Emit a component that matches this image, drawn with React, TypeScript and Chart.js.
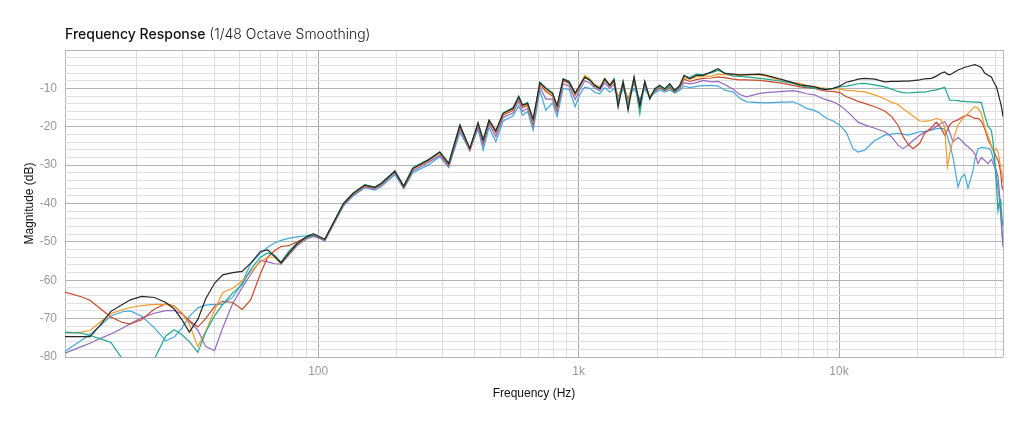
import { useEffect, useRef } from "react"
import { Chart, registerables } from "chart.js"

Chart.register(...registerables)

// frequency points (Hz) shared by every trace
const frequencies = [
  10.66, 12.3, 13.3, 14.5, 16, 17.7, 19, 21, 23.5, 26, 28, 30, 32, 34.5, 37, 40, 43, 47, 51, 55, 60, 64, 68, 72, 77, 83, 90, 96,
  106, 114, 125, 136, 151, 165, 175, 197, 213, 231, 264, 293, 317, 350, 382, 411, 430, 453, 481, 513, 560, 589, 609, 637, 669, 710, 748, 794, 827, 872, 919, 970,
  1011, 1056, 1104, 1154, 1206, 1260, 1317, 1368, 1418, 1482, 1549, 1633, 1718, 1795, 1876, 1961, 2049, 2142, 2239, 2340, 2445, 2541, 2672, 2836, 3006, 3237, 3432, 3640,
  3919, 4157, 4411, 4961, 5263, 6095, 6660, 7066, 7497, 8067, 8433, 8945, 9483, 10060,
  10676, 11316, 11826, 12549, 13709, 14978, 15893, 16850, 17603, 18400, 19231, 20407, 21326, 22630, 23654, 24723, 25450, 26062, 26600, 27390,
  28626, 29490, 30376, 31280, 32690, 33185, 34170, 35200, 36240, 37390, 37880, 38459, 39030, 39600, 40200, 40770, 41138, 41760, 42250, 42620,
]

// magnitude (dB) per trace
const blackTrace = [
  -74.7, -74.7, -74.7, -71.8, -68.1, -66.3, -65.1, -64.2, -64.5, -65.8, -67.5, -70.3, -73.5, -70.2, -64.8, -60.8, -58.6, -58, -57.7, -55.6, -52.5, -52.1, -53.8, -55.5, -53, -50.5, -48.7, -47.9,
  -49.3, -45.2, -40, -37.4, -35.2, -35.8, -34.8, -31.6, -35.5, -30.9, -28.7, -26.6, -29.6, -19.6, -25.7, -19, -23.5, -18.3, -21.1, -16.5, -15.2, -12.2, -14.4, -13.9, -18, -8.5, -10, -11.3, -14.5, -7.6, -8.3, -11.3,
  -9.2, -7.1, -7.9, -9.2, -10.1, -7.5, -9.2, -7.8, -14.9, -8.4, -15.7, -7.1, -14.5, -8.2, -12.7, -10.1, -9.2, -10.1, -8.8, -10.5, -9.2, -6.6, -7.5, -6.6, -6.6, -5.7, -4.9, -6.1,
  -6.3, -6.5, -6.4, -6.3, -6.6, -7.8, -8.5, -9.1, -9.3, -9.6, -10, -10.3, -10, -9.4,
  -8.4, -8, -7.6, -7.4, -7.6, -8.3, -8.2, -8.2, -8.1, -8.1, -8, -7.8, -7.5, -7.4, -6.8, -6, -5.7, -6.3, -6.5, -6,
  -5.2, -4.9, -4.5, -4.3, -3.9, -3.8, -4.1, -4.6, -6, -6.6, -6.8, -7, -8, -8.8, -9.6, -11, -12.2, -13.9, -15.6, -17.4,
]
const tealTrace = [
  -73.5, -73.8, -74.4, -75.2, -76.2, -80.5, -84, -85, -80.5, -74.5, -72.9, -74.2, -76, -78.8, -73.5, -69.3, -66.3, -63.3, -61.2, -57.2, -54, -52.9, -53.5, -55.3, -52.5, -50.3, -49, -48.2,
  -49.3, -45.2, -40, -37.3, -35.1, -35.7, -34.6, -31.5, -35.4, -30.6, -28.6, -26.5, -29.5, -19.5, -25.6, -19, -23.4, -18.3, -21, -16.4, -15, -12, -14.3, -13.7, -18.2, -8.4, -9.8, -11.2, -14.6, -7.5, -8.1, -11.2,
  -9.3, -7.2, -7.8, -9.4, -10, -7.6, -9.3, -7.5, -13.8, -8.2, -14.5, -7.2, -16.6, -8.3, -12.9, -10.4, -9.6, -10.4, -9.3, -10.8, -9.5, -6.8, -7.2, -6.3, -6.4, -5.9, -5.3, -6,
  -6.8, -6.9, -7, -7.4, -7.6, -8.2, -8.7, -9.2, -9.6, -10, -10.1, -10.2, -10, -9.6,
  -9.4, -9.1, -8.8, -8.7, -9.1, -9.6, -10.2, -10.8, -11.1, -11.2, -11.1, -11, -11, -10.6, -10.4, -10, -9.7, -11.5, -13.1, -13.1,
  -13.2, -13.4, -13.4, -13.5, -13.5, -13.6, -13.6, -13.7, -17, -20, -20.4, -20.9, -24, -28.7, -35, -41.8, -40, -39, -44, -46,
]
const orangeTrace = [
  -73.8, -73.5, -73.1, -71, -68.7, -67.7, -67.1, -66.6, -66.3, -66.3, -66.8, -68.5, -71.5, -77.3, -73.3, -67.8, -63.2, -62.1, -60.2, -57.8, -55.2, -54, -54, -55.6, -53.1, -50.6, -49, -48,
  -49.4, -45.3, -40.1, -37.5, -35.3, -35.9, -34.9, -31.7, -35.6, -31, -28.9, -26.8, -29.8, -19.7, -25.9, -19.1, -23.7, -18.4, -21.3, -16.6, -15.3, -12.3, -14.6, -14.1, -18.6, -8.5, -10.4, -11.6, -15, -7.7, -8.4, -11.5,
  -9, -6.6, -7.5, -9, -9.6, -7.4, -9, -7.6, -13, -8, -13.8, -7, -15.5, -8.3, -12.2, -10.3, -9.5, -10.3, -9.4, -10.6, -9.4, -7.2, -7.6, -7, -6.8, -6.8, -6.3, -6.5,
  -6.5, -6.6, -6.5, -6.5, -6.8, -8.2, -8.5, -8.7, -9.2, -9.6, -9.8, -10, -10.1, -10.2,
  -10.5, -10.6, -10.8, -10.9, -11.7, -12.7, -13.6, -14.2, -15.3, -16.2, -17.2, -18.5, -18.6, -18.3, -17.8, -18.3, -20, -30.5, -27, -23.5,
  -19.6, -18.3, -17.4, -16.5, -15.2, -14.8, -15.2, -16.5, -20, -22.5, -23.5, -25, -26, -26.1, -25.7, -26.5, -28, -30.5, -32.2, -34.5,
]
const redTrace = [
  -63.1, -64.3, -65.2, -67.3, -69.6, -71, -71.4, -70.3, -67.5, -66.1, -66.7, -68.7, -70.5, -72.2, -70, -66.8, -65.5, -65.8, -67.6, -65.2, -58.3, -54, -52.3, -51.2, -51, -50, -48.8, -48.3,
  -49.4, -45.4, -40.2, -37.6, -35.4, -36, -35, -31.6, -35.8, -31, -29, -26.8, -30, -20, -26, -19.4, -24, -18.7, -21.6, -17, -15.7, -12.6, -15, -14.5, -19, -8.9, -10.8, -12, -15.5, -8, -8.7, -11.8,
  -9.5, -6.9, -7.7, -9.5, -10, -7.8, -9.5, -8.2, -12.8, -8.6, -13.4, -7.5, -14.8, -8.8, -12.4, -10.6, -9.8, -10.6, -9.8, -11, -9.8, -7.6, -8.2, -7.7, -7.4, -7.3, -7, -7.2,
  -7.6, -7.8, -7.8, -7.9, -8.1, -8.7, -9.2, -9.6, -9.8, -10, -10.4, -10.7, -10.8, -11.1,
  -12.2, -12.8, -13.4, -13.9, -14.8, -15.9, -17.3, -19.6, -22.5, -24.5, -25.7, -24.3, -21.7, -20.2, -18.8, -20.5, -22.2, -21, -19.5, -18.7,
  -18.2, -17.6, -17.2, -17, -17.6, -17.8, -17.8, -18.6, -20.5, -23.5, -24.2, -25, -26.1, -27, -28, -28.7, -29.5, -32, -35.7, -36.5,
]
const purpleTrace = [
  -79, -77.3, -76.4, -75.2, -74, -72.5, -71.3, -69.8, -68.6, -67.9, -67.9, -68.8, -70.8, -73, -77.3, -78.3, -72.4, -66, -62, -58.5, -54.8, -55.2, -55.7, -55.8, -53.5, -51, -49.3, -48.6,
  -49.6, -45.6, -40.4, -37.8, -35.6, -36.2, -35.2, -32, -36, -31.5, -29.4, -27.4, -30.4, -20.6, -26.3, -20, -24.8, -19.3, -22.6, -17.6, -16.4, -13.3, -16, -15.2, -19.8, -9.6, -12.8, -12.8, -16.2, -8.8, -9.4, -12.9,
  -10.4, -8, -8.6, -10, -10.6, -8.6, -10, -8.9, -12.2, -9.4, -12.6, -8.6, -13.5, -9.4, -12.2, -10.8, -10, -10.6, -9.9, -10.9, -10, -8.5, -8.8, -8.5, -7.9, -8.3, -8.2, -9,
  -10.2, -11.6, -12.2, -11.3, -11.1, -10.8, -10.6, -10.9, -11.4, -11.7, -12.3, -13, -13.5, -14.4,
  -15.8, -17.5, -18.8, -19.5, -20.4, -21.3, -22.6, -24.8, -25.7, -24.8, -23.6, -22.2, -21.4, -20.7, -19.9, -19.1, -18.7, -19.8, -21.5, -23.9,
  -22.8, -23.5, -24.5, -25.2, -26.4, -27, -29.6, -28, -28.8, -29.6, -29, -28.5, -29.5, -30.5, -31.3, -33, -36, -42, -47, -51.4,
]
const cyanTrace = [
  -78.5, -75.7, -74.1, -72, -69.3, -68.2, -68, -69.4, -72.4, -75.8, -74.8, -72.4, -69.4, -67.2, -66.5, -66.3, -66.2, -64.4, -60.7, -55.7, -53, -51.4, -50.3, -49.6, -49.1, -48.7, -48.4, -48,
  -49.8, -45.8, -40.7, -38.1, -35.9, -36.5, -35.6, -32.5, -36.1, -32, -30, -27.8, -30.6, -21.5, -26.1, -20.6, -26.1, -20.2, -23.9, -18.5, -17.2, -14.5, -17, -16, -20.9, -10.5, -15.7, -13.8, -17.4, -10, -10.3, -14.8,
  -11.5, -9.7, -10, -11, -11.4, -9.8, -11, -10, -12.4, -10.3, -12.6, -10, -12.8, -10.2, -12.2, -11.2, -10.5, -11, -10.4, -11.2, -10.5, -9.4, -9.8, -9.5, -9.3, -9.2, -9.4, -10.5,
  -10.9, -12.6, -13.5, -13.7, -13.8, -13.6, -13.5, -14.2, -15.2, -15.8, -16.5, -17.8, -18.5, -19.6,
  -21.5, -25.7, -26.6, -26.1, -23.6, -22.2, -21.9, -21.7, -21.9, -22.2, -21.8, -21.3, -21.2, -20.9, -20.5, -20.4, -20.6, -22.5, -24.5, -27.9,
  -35.7, -33.2, -32.4, -36, -31.5, -28.7, -25.8, -25.4, -25.5, -25.6, -25.7, -26.5, -28.2, -29.5, -33, -36, -38, -43, -48, -50.9,
]

const traces = [
  { label: "Trace 1", color: "#262626", values: blackTrace },
  { label: "Trace 2", color: "#1fa88f", values: tealTrace },
  { label: "Trace 3", color: "#f39a2c", values: orangeTrace },
  { label: "Trace 4", color: "#c94a2c", values: redTrace },
  { label: "Trace 5", color: "#9568c0", values: purpleTrace },
  { label: "Trace 6", color: "#42a8da", values: cyanTrace },
]

const xLabelValues = [100, 1000, 10000]
const xLabelText = ["100", "1k", "10k"]

const titleMain = "Frequency Response"
const titleSub = "(1/48 Octave Smoothing)"

const FONT = "'Liberation Sans', Arial, sans-serif"

const titlePlugin = {
  id: "splitTitle",
  afterDraw(chart: Chart) {
    const { ctx, chartArea } = chart
    ctx.save()
    ctx.textBaseline = "alphabetic"
    ctx.textAlign = "left"
    ctx.font = `500 14px Inter, ${FONT}`
    ctx.fillStyle = "#111111"
    ctx.fillText(titleMain, chartArea.left, 39)
    const w = ctx.measureText(titleMain + " ").width
    ctx.font = `300 14px Inter, ${FONT}`
    ctx.fillStyle = "#222222"
    ctx.fillText(titleSub, chartArea.left + w, 39)
    ctx.restore()
  },
}

export default function App() {
  const chartRef = useRef<HTMLCanvasElement>(null)
  const chartInstance = useRef<Chart | null>(null)

  useEffect(() => {
    document.body.style.margin = "0"
    if (!chartRef.current) return
    if (chartInstance.current) chartInstance.current.destroy()
    const ctx = chartRef.current.getContext("2d")
    if (!ctx) return

    const xMin = frequencies[0]
    const xMax = frequencies[frequencies.length - 1]

    chartInstance.current = new Chart(ctx, {
      type: "line",
      data: {
        datasets: traces.map((t) => ({
          label: t.label,
          data: frequencies.map((f, i) => ({ x: f, y: t.values[i] })),
          borderColor: t.color,
          backgroundColor: t.color,
          borderWidth: 1.2,
          pointRadius: 0,
          tension: 0,
          fill: false,
        })),
      },
      options: {
        animation: false,
        responsive: true,
        maintainAspectRatio: false,
        layout: { padding: { top: 50, right: 21, left: 0, bottom: 0 } },
        plugins: {
          legend: { display: false },
          tooltip: { enabled: false },
          title: { display: false },
        },
        scales: {
          x: {
            type: "logarithmic",
            min: xMin,
            max: xMax,
            afterBuildTicks: (scale) => {
              const ticks: { value: number }[] = [{ value: xMin }]
              for (const d of [10, 100, 1000, 10000]) {
                for (let m = 1; m <= 9; m++) {
                  const v = m * d
                  if (v > xMin && v < xMax) ticks.push({ value: v })
                }
              }
              ticks.push({ value: xMax })
              scale.ticks = ticks
            },
            afterFit: (scale) => {
              scale.height = 70
            },
            grid: {
              drawTicks: false,
              color: (c) => {
                const v = c.tick ? c.tick.value : 0
                if (xLabelValues.includes(v)) return "#a9a9a9"
                if (v === xMin || v === xMax) return "#b9b9b9"
                return "#dddddd"
              },
            },
            border: { display: false },
            ticks: {
              autoSkip: false,
              maxRotation: 0,
              padding: 7,
              color: "#999999",
              font: { family: FONT, size: 12 },
              callback: (value) => {
                const i = xLabelValues.indexOf(Number(value))
                return i >= 0 ? xLabelText[i] : ""
              },
            },
            title: {
              display: true,
              text: "Frequency (Hz)",
              color: "#111111",
              font: { family: FONT, size: 12 },
              padding: { top: 0, bottom: 26 },
            },
          },
          y: {
            type: "linear",
            min: -80,
            max: 0,
            afterFit: (scale) => {
              scale.width = 65
            },
            grid: {
              drawTicks: false,
              color: (c) => {
                const v = c.tick ? c.tick.value : 0
                return v % 10 === 0 ? "#b3b3b3" : "#e0e0e0"
              },
            },
            border: { display: false },
            ticks: {
              stepSize: 2,
              autoSkip: false,
              padding: 8,
              color: "#999999",
              font: { family: FONT, size: 12 },
              callback: (value) => {
                const v = Number(value)
                return v % 10 === 0 && v !== 0 ? String(v) : ""
              },
            },
            title: {
              display: true,
              text: "Magnitude (dB)",
              color: "#111111",
              font: { family: FONT, size: 12 },
              padding: { top: 22, bottom: 0 },
            },
          },
        },
      },
      plugins: [titlePlugin],
    })

    return () => {
      if (chartInstance.current) {
        chartInstance.current.destroy()
        chartInstance.current = null
      }
    }
  }, [])

  return (
    <div style={{ position: "relative", width: 1024, height: 427 }}>
      <canvas ref={chartRef} />
    </div>
  )
}
